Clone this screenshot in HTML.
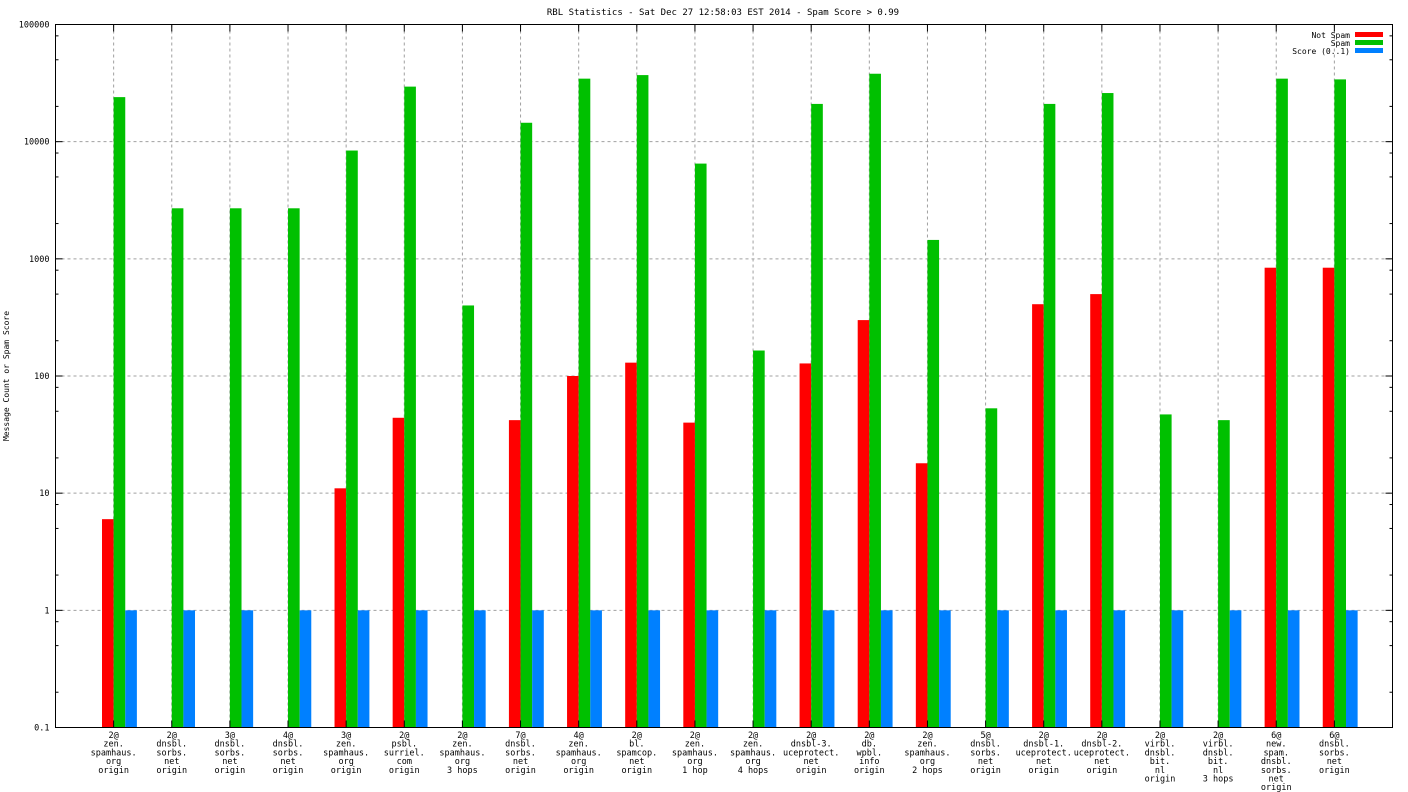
<!DOCTYPE html>
<html><head><meta charset="utf-8"><style>
html,body{margin:0;padding:0;background:#fff;}
svg{display:block;font-family:"DejaVu Sans Mono","Liberation Mono",monospace;}
</style></head><body>
<svg id="chart" width="1408" height="792" xmlns="http://www.w3.org/2000/svg">
<text x="723" y="15" font-size="9" text-anchor="middle">RBL Statistics - Sat Dec 27 12:58:03 EST 2014 - Spam Score &gt; 0.99</text>
<text transform="translate(9,376) rotate(-90)" font-size="8" text-anchor="middle">Message Count or Spam Score</text>
<g id="grid"></g><g id="bars"></g><g id="axes"></g>
<g>
<text x="1350" y="38" font-size="8" text-anchor="end">Not Spam</text>
<rect x="1355" y="32" width="28" height="5" fill="#ff0000"/>
<text x="1350" y="46" font-size="8" text-anchor="end">Spam</text>
<rect x="1355" y="40" width="28" height="5" fill="#00c000"/>
<text x="1350" y="54" font-size="8" text-anchor="end">Score (0..1)</text>
<rect x="1355" y="48" width="28" height="5" fill="#0080ff"/>
</g>
</svg>
<script>
const categories=[
["2@","zen.","spamhaus.","org","origin"],["2@","dnsbl.","sorbs.","net","origin"],["3@","dnsbl.","sorbs.","net","origin"],["4@","dnsbl.","sorbs.","net","origin"],["3@","zen.","spamhaus.","org","origin"],["2@","psbl.","surriel.","com","origin"],["2@","zen.","spamhaus.","org","3 hops"],["7@","dnsbl.","sorbs.","net","origin"],["4@","zen.","spamhaus.","org","origin"],["2@","bl.","spamcop.","net","origin"],["2@","zen.","spamhaus.","org","1 hop"],["2@","zen.","spamhaus.","org","4 hops"],["2@","dnsbl-3.","uceprotect.","net","origin"],["2@","db.","wpbl.","info","origin"],["2@","zen.","spamhaus.","org","2 hops"],["5@","dnsbl.","sorbs.","net","origin"],["2@","dnsbl-1.","uceprotect.","net","origin"],["2@","dnsbl-2.","uceprotect.","net","origin"],["2@","virbl.","dnsbl.","bit.","nl","origin"],["2@","virbl.","dnsbl.","bit.","nl","3 hops"],["6@","new.","spam.","dnsbl.","sorbs.","net","origin"],["6@","dnsbl.","sorbs.","net","origin"]];
const notSpam=[6,0,0,0,11,44,0,42,100,130,40,0,128,300,18,0,410,500,0,0,840,840];
const spam=[24000,2700,2700,2700,8400,29500,400,14500,34500,37000,6500,165,21000,38000,1450,53,21000,26000,47,42,34500,34000];
const score=[1,1,1,1,1,1,1,1,1,1,1,1,1,1,1,1,1,1,1,1,1,1];
const yTicks=["0.1","1","10","100","1000","10000","100000"];
const NS="http://www.w3.org/2000/svg";
const L=55.5,R=1392.5,T=24.5,B=727.5;
const xs=v=>L+(R-L)*v/(categories.length+1);
const ys=v=>B-(B-T)*(Math.log10(v)+1)/6;
function mk(p,t,a){const e=document.createElementNS(NS,t);for(const k in a)e.setAttribute(k,a[k]);p.appendChild(e);return e;}
const grid=document.getElementById('grid'),bars=document.getElementById('bars'),axes=document.getElementById('axes');
yTicks.forEach((t,i)=>{const v=parseFloat(t),y=ys(v);
 if(i>0&&i<yTicks.length-1){const g=mk(grid,'line',{x1:L,x2:R,y1:y,y2:y,stroke:'#a0a0a0','stroke-dasharray':'3,3','stroke-width':1});
 
 }
 const tl=mk(axes,'line',{x1:L,x2:L+7,y1:y,y2:y,stroke:'#000'});
 
 
 const tr=mk(axes,'line',{x1:R,x2:R-7,y1:y,y2:y,stroke:'#000'});
 
 
 const tx=mk(axes,'text',{x:L-6,y:y+3,'font-size':8.5,'text-anchor':'end'});tx.textContent=t;
 
 
 if(i<yTicks.length-1)[2,5,8].forEach(m=>{const ym=ys(v*m);
  const a=mk(axes,'line',{x1:L,x2:L+3,y1:ym,y2:ym,stroke:'#000'});
  
  
  const b=mk(axes,'line',{x1:R,x2:R-3,y1:ym,y2:ym,stroke:'#000'});
  
  });
});
const bw=(R-L)/(categories.length+1)*0.2;
categories.forEach((c,i)=>{const cx=xs(i+1);
 const g=mk(grid,'line',{x1:cx,x2:cx,y1:T,y2:B,stroke:'#a0a0a0','stroke-dasharray':'3,3'});
 
 
 const tb=mk(axes,'line',{x1:cx,x2:cx,y1:B,y2:B-7,stroke:'#000'});
 
 
 const tt=mk(axes,'line',{x1:cx,x2:cx,y1:T,y2:T+7,stroke:'#000'});
 
 
 [[notSpam,'#ff0000',-1,'bar-not-spam'],[spam,'#00c000',0,'bar-spam'],[score,'#0080ff',1,'bar-score']].forEach(([arr,col,off,nm])=>{
  const v=arr[i];if(!(v>0))return;const y=ys(v);
  const r=mk(bars,'rect',{x:cx+off*bw,y:y,width:bw,height:B-y,fill:col});
  
  });
 const t=mk(axes,'text',{x:cx,'font-size':8.5,'text-anchor':'middle'});
 
 
 c.forEach((ln,j)=>{const s=mk(t,'tspan',{x:cx,y:738+j*8.7});s.textContent=ln;});
});
const fr=mk(axes,'rect',{x:L,y:T,width:R-L,height:B-T,fill:'none',stroke:'#000'});


</script>
</body></html>
